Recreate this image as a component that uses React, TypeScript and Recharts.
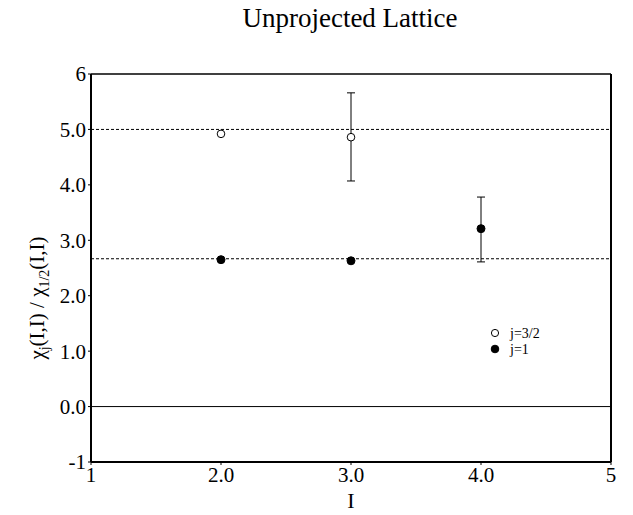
import React from 'react';
import { ComposedChart, Scatter, XAxis, YAxis, ReferenceLine, ErrorBar } from 'recharts';

const xI = [2, 3, 4];
const ratioJ32: (number | null)[] = [4.92, 4.86, null];
const ratioJ1: (number | null)[] = [2.65, 2.63, 3.21];
const errJ32: ([number, number] | null)[] = [null, [0.79, 0.8], null];
const errJ1: ([number, number] | null)[] = [null, null, [0.6, 0.57]];
const dashedLevels = [5.0, 8 / 3];
const xTicks = [1, 2, 3, 4, 5];
const yTicks = [-1, 0, 1, 2, 3, 4, 5, 6];
const seriesNames = ['j=3/2', 'j=1'];

const FONT = '"Liberation Serif", "Times New Roman", serif';

const points = (vals: (number | null)[]) =>
  xI.map((I, k) => ({ I, v: vals[k] })).filter((d) => d.v !== null);
const errPoints = (vals: (number | null)[], errs: ([number, number] | null)[]) =>
  xI.map((I, k) => ({ I, v: vals[k], err: errs[k] })).filter((d) => d.v !== null && d.err !== null);

const openDot = (p: any) => <circle cx={p.cx} cy={p.cy} r={3.8} fill="#fff" stroke="#000" strokeWidth={1} />;
const filledDot = (p: any) => <circle cx={p.cx} cy={p.cy} r={4} fill="#000" stroke="#000" strokeWidth={1} />;

const fmtX = (v: number) => (v === 1 || v === 5 ? String(v) : v.toFixed(1));
const fmtY = (v: number) => (v === -1 || v === 6 ? String(v) : v.toFixed(1));

const LegendBox = () => (
  <svg width={80} height={34} style={{ position: 'absolute', left: 481, top: 317, fontFamily: FONT }}>
    <circle cx={6} cy={8} r={3.6} fill="#fff" stroke="#000" />
    <text x={21} y={13} fontSize={14} fill="#000">{seriesNames[0]}</text>
    <circle cx={6} cy={24} r={3.8} fill="#000" stroke="#000" />
    <text x={21} y={29} fontSize={14} fill="#000">{seriesNames[1]}</text>
  </svg>
);

const YLabel = () => (
  <text transform="translate(36,290) rotate(-90)" textAnchor="middle" fontFamily={FONT} fontSize={21} fill="#000">
    <tspan>χ</tspan>
    <tspan fontSize={14} dy={5}>j</tspan>
    <tspan dy={-5}>(I,I) / χ</tspan>
    <tspan fontSize={14} dy={5}>1/2</tspan>
    <tspan dy={-5}>(I,I)</tspan>
  </text>
);

export default function App() {
  return (
    <div style={{ position: 'relative', width: 625, height: 507, fontFamily: FONT }}>
      <div style={{ position: 'absolute', left: 0, width: 684, top: -5, textAlign: 'center', fontSize: 27, color: '#000', fontFamily: FONT }}>
        Unprojected Lattice
      </div>
      <ComposedChart width={625} height={507} margin={{ top: 66, right: 22, left: 0, bottom: 0 }}>
        <XAxis
          type="number"
          dataKey="I"
          domain={[1, 5]}
          ticks={xTicks}
          tickFormatter={fmtX}
          allowDataOverflow
          height={53}
          axisLine={{ stroke: '#000', strokeWidth: 2 }}
          tickLine={{ stroke: '#000' }}
          tickSize={3}
          tick={{ fill: '#000', fontSize: 21, fontFamily: FONT }}
          label={{ value: 'I', position: 'insideBottom', offset: 7, fill: '#000', fontSize: 22, fontFamily: FONT }}
        />
        <YAxis
          type="number"
          domain={[-1, 6]}
          ticks={yTicks}
          tickFormatter={fmtY}
          allowDataOverflow
          width={83}
          axisLine={{ stroke: '#000', strokeWidth: 2 }}
          tickLine={{ stroke: '#000' }}
          tickSize={3}
          tick={{ fill: '#000', fontSize: 21, fontFamily: FONT }}
          label={<YLabel />}
        />
        <ReferenceLine y={6} stroke="#000" strokeWidth={1.5} />
        <ReferenceLine x={5} stroke="#000" strokeWidth={2} />
        <ReferenceLine y={0} stroke="#000" strokeWidth={1} />
        {dashedLevels.map((l) => (
          <ReferenceLine key={l} y={l} stroke="#000" strokeWidth={1} strokeDasharray="3 2" />
        ))}
        <Scatter name="e32" data={errPoints(ratioJ32, errJ32)} dataKey="v" shape={() => null} isAnimationActive={false} legendType="none">
          <ErrorBar dataKey="err" direction="y" width={4} stroke="#000" strokeWidth={1} />
        </Scatter>
        <Scatter name="e1" data={errPoints(ratioJ1, errJ1)} dataKey="v" shape={() => null} isAnimationActive={false} legendType="none">
          <ErrorBar dataKey="err" direction="y" width={4} stroke="#000" strokeWidth={1} />
        </Scatter>
        <Scatter name={seriesNames[0]} data={points(ratioJ32)} dataKey="v" shape={openDot} isAnimationActive={false} />
        <Scatter name={seriesNames[1]} data={points(ratioJ1)} dataKey="v" shape={filledDot} isAnimationActive={false} />
      </ComposedChart>
      <LegendBox />
    </div>
  );
}
